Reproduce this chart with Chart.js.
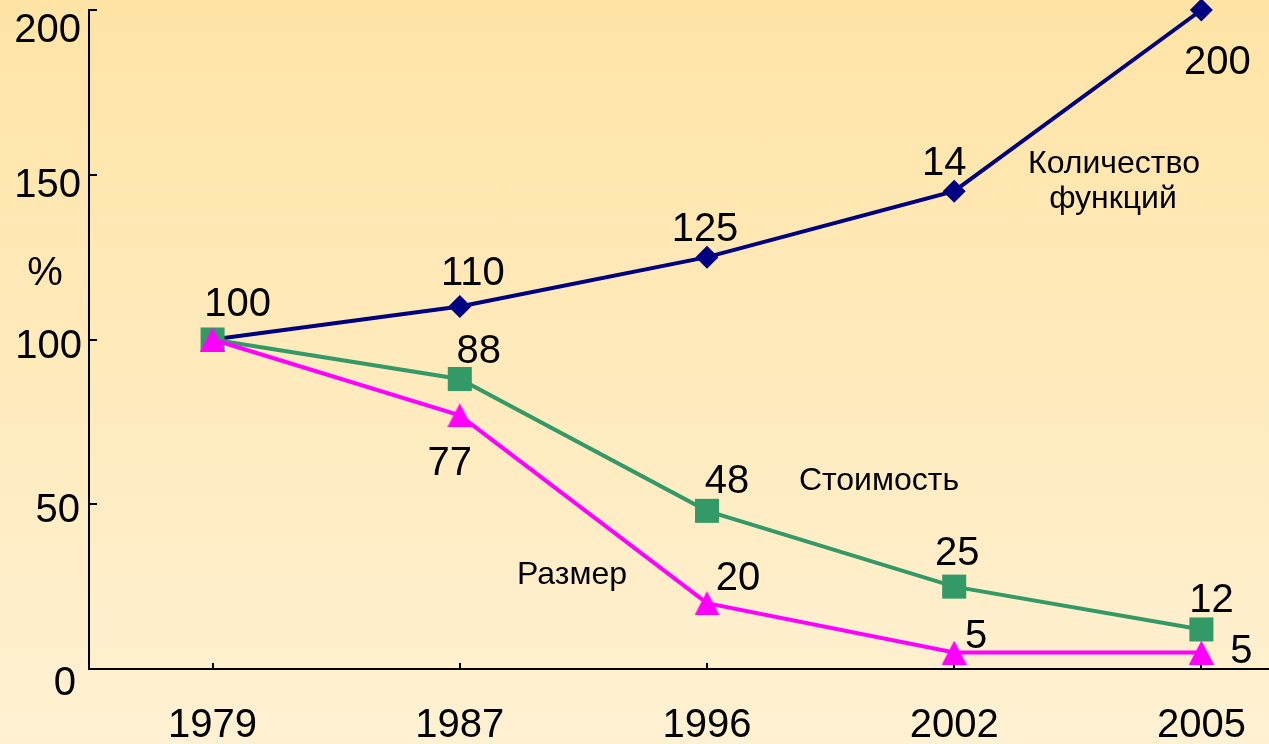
<!DOCTYPE html>
<html>
<head>
<meta charset="utf-8">
<script src="https://cdn.jsdelivr.net/npm/chart.js@4.4.1/dist/chart.umd.min.js"></script>
<style>
  html, body {
    margin: 0;
    padding: 0;
    width: 1269px;
    height: 744px;
    overflow: hidden;
    background: linear-gradient(#FFE4A6, #FFF1D3);
  }
  canvas { display: block; }
</style>
</head>
<body>
<canvas id="chart" width="1325" height="744" style="width:1325px;height:744px"></canvas>
<script>
// Categories and series
const years = ['1979', '1987', '1996', '2002', '2005'];
const functionsCount = [100, 110, 125, 145, 200];
const cost = [100, 88, 48, 25, 12];
const size = [100, 77, 20, 5, 5];

// Value labels written next to the points
const functionsLabels = ['100', '110', '125', '14', '200'];
const costLabels = ['', '88', '48', '25', '12'];
const sizeLabels = ['', '77', '20', '5', '5'];

// Y axis ticks
const yTicks = [0, 50, 100, 150, 200];

const FONT = "'Liberation Sans', Arial, sans-serif";
const NAVY = '#000080';
const GREEN = '#339966';
const MAGENTA = '#FF00FF';

// Triangle marker as a small canvas so it is centred on its point
function triangleMarker(w, h, color) {
  const c = document.createElement('canvas');
  c.width = w; c.height = h;
  const g = c.getContext('2d');
  g.fillStyle = color;
  g.beginPath();
  g.moveTo(w / 2, 0);
  g.lineTo(w, h);
  g.lineTo(0, h);
  g.closePath();
  g.fill();
  return c;
}

// Label placement relative to each point: [dx, dy to baseline]
const labelOffsets = {
  functions: [[25, -24], [13, -22], [-2, -16], [-10, -16], [16, 64]],
  cost:      [[0, 0], [19, -16], [20, -18], [3, -22], [10, -17]],
  size:      [[0, 0], [-10, 60], [31, -13], [22, -5], [40, 10]]
};

const yLabelStyle = {
  0:   { right: 76, dy: 26 },
  50:  { right: 80, dy: 18 },
  100: { right: 82, dy: 18 },
  150: { right: 81, dy: 22 },
  200: { right: 81, dy: 32 }
};

const decorations = {
  id: 'decorations',
  beforeDatasetsDraw(chart) {
    const { ctx, chartArea, scales: { x, y } } = chart;
    ctx.save();
    ctx.strokeStyle = '#000';
    ctx.lineWidth = 2;
    // inward ticks on the value axis
    yTicks.forEach(v => {
      if (v === 0) return;
      const py = Math.round(y.getPixelForValue(v));
      ctx.beginPath();
      ctx.moveTo(chartArea.left, py);
      ctx.lineTo(chartArea.left + 8, py);
      ctx.stroke();
    });
    // inward ticks on the category axis
    years.forEach((_, i) => {
      const px = Math.round(x.getPixelForValue(i));
      ctx.beginPath();
      ctx.moveTo(px, chartArea.bottom);
      ctx.lineTo(px, chartArea.bottom - 6);
      ctx.stroke();
    });
    ctx.restore();
  },
  afterDatasetsDraw(chart) {
    const { ctx, chartArea, scales: { x, y } } = chart;
    ctx.save();
    ctx.fillStyle = '#000';
    ctx.textBaseline = 'alphabetic';

    // tick labels
    ctx.font = '40px ' + FONT;
    ctx.textAlign = 'right';
    yTicks.forEach(v => {
      const s = yLabelStyle[v];
      ctx.fillText(String(v), s.right, y.getPixelForValue(v) + s.dy);
    });
    ctx.textAlign = 'center';
    years.forEach((yr, i) => {
      ctx.fillText(yr, x.getPixelForValue(i), chartArea.bottom + 68);
    });
    ctx.fillText('%', 45, 285);

    // value labels
    const groups = [
      ['functions', functionsCount, functionsLabels],
      ['cost', cost, costLabels],
      ['size', size, sizeLabels]
    ];
    groups.forEach(([key, values, labels]) => {
      values.forEach((v, i) => {
        if (!labels[i]) return;
        const [dx, dy] = labelOffsets[key][i];
        ctx.fillText(labels[i], x.getPixelForValue(i) + dx, y.getPixelForValue(v) + dy);
      });
    });

    // series names
    ctx.font = '32px ' + FONT;
    ctx.fillText('Количество', 1114, 173);
    ctx.fillText('функций', 1113, 208);
    ctx.fillText('Стоимость', 879, 490);
    ctx.fillText('Размер', 572, 584);
    ctx.restore();
  }
};

new Chart(document.getElementById('chart'), {
  type: 'line',
  data: {
    labels: years,
    datasets: [
      {
        label: 'Размер',
        data: size,
        order: 0,
        borderColor: MAGENTA,
        backgroundColor: MAGENTA,
        borderWidth: 4,
        pointStyle: triangleMarker(25, 24, MAGENTA),
        pointRadius: 12,
        tension: 0,
        clip: false
      },
      {
        label: 'Стоимость',
        data: cost,
        order: 1,
        borderColor: GREEN,
        backgroundColor: GREEN,
        pointBorderWidth: 0,
        borderWidth: 4,
        pointStyle: 'rect',
        pointRadius: 17,
        tension: 0,
        clip: false
      },
      {
        label: 'Количество функций',
        data: functionsCount,
        order: 2,
        borderColor: NAVY,
        backgroundColor: NAVY,
        pointBorderWidth: 0,
        borderWidth: 4,
        pointStyle: 'rectRot',
        pointRadius: 11.5,
        tension: 0,
        clip: false
      }
    ]
  },
  options: {
    responsive: false,
    animation: false,
    events: [],
    layout: { autoPadding: false, padding: { top: 10, left: 0, right: 0, bottom: 0 } },
    plugins: {
      legend: { display: false },
      tooltip: { enabled: false }
    },
    scales: {
      x: {
        type: 'category',
        offset: true,
        grid: { display: false },
        border: { display: true, color: '#000', width: 2 },
        ticks: { display: false },
        afterFit(scale) { scale.height = 75; }
      },
      y: {
        min: 0,
        max: 200,
        grid: { display: false },
        border: { display: true, color: '#000', width: 2 },
        ticks: { display: false, stepSize: 50 },
        afterFit(scale) { scale.width = 89; }
      }
    }
  },
  plugins: [decorations]
});
</script>
</body>
</html>
